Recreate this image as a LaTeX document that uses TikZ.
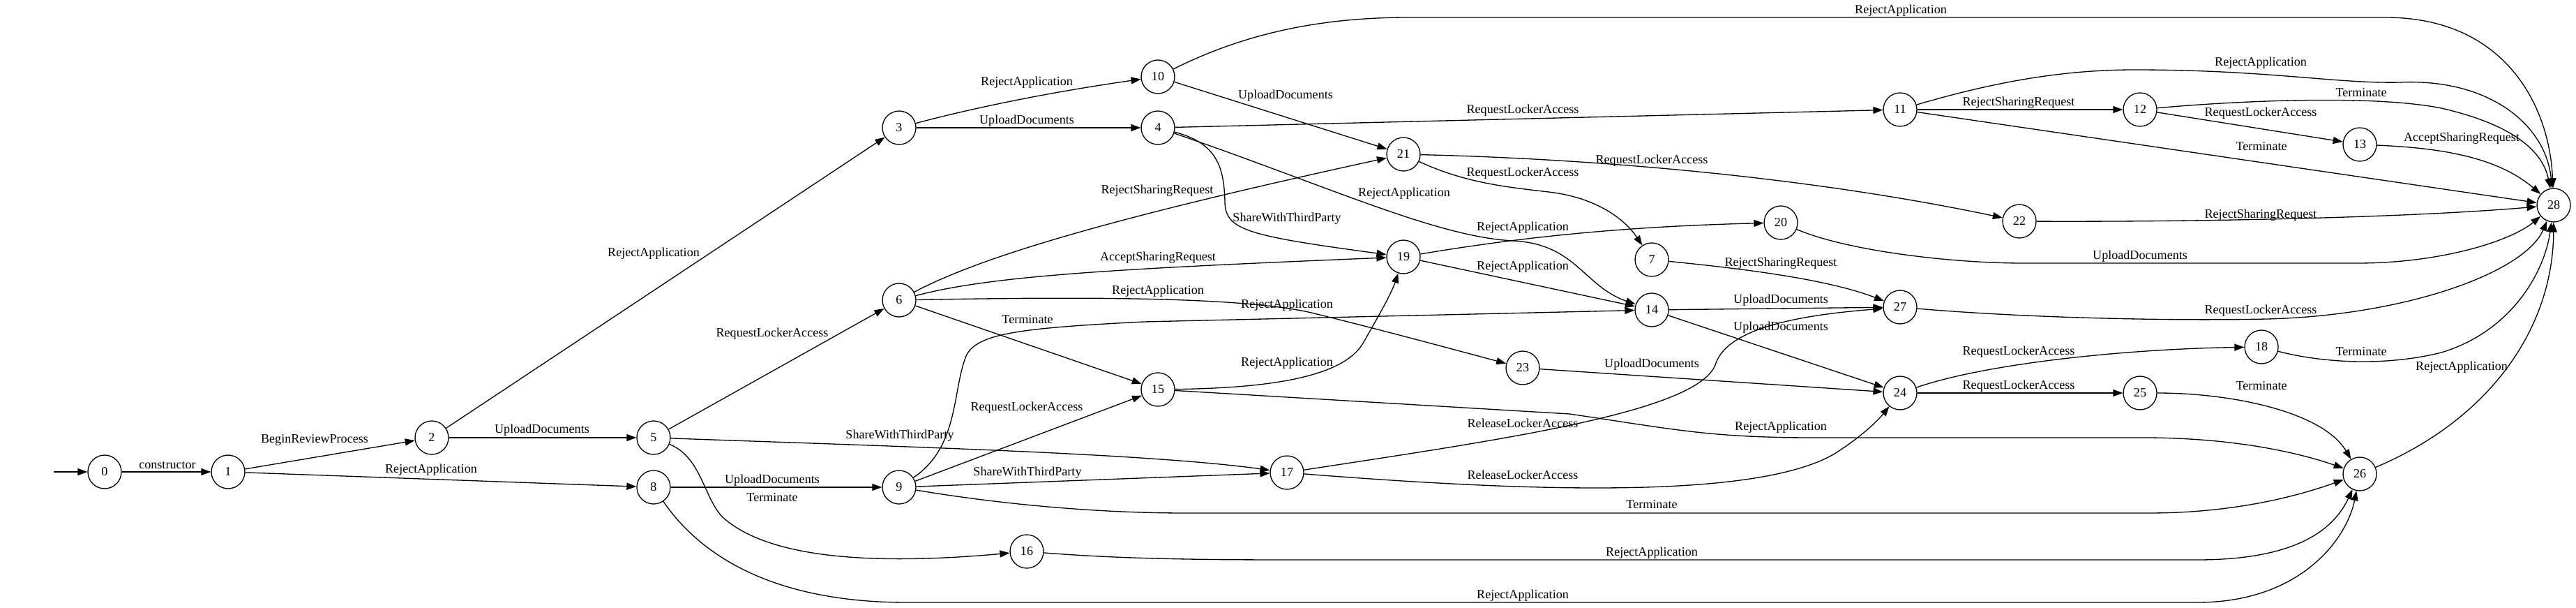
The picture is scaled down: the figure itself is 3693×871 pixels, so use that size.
\documentclass[tikz,border=0pt]{standalone}
\usepackage{fontspec}
\setmainfont{Liberation Serif}
\usetikzlibrary{arrows.meta}
\newcommand\gvfont{\fontsize{10.3}{12}\selectfont}
\tikzset{
  st/.style={circle, draw, line width=0.75pt, minimum size=0.96cm, inner sep=0pt, font=\gvfont},
  lbl/.style={inner sep=0pt, font=\gvfont},
  tr/.style={draw, line width=0.75pt, -{Triangle[length=0.28cm,width=0.2cm]}},
}
\begin{document}
\begin{tikzpicture}[x=0.02cm, y=-0.02cm]
\useasboundingbox (0,0) rectangle (3693,871);
% states
\coordinate (start) at (77,676);
\node[st] (n0) at (150,676) {0};
\node[st] (n1) at (327,676) {1};
\node[st] (n2) at (619,627) {2};
\node[st] (n5) at (937,627) {5};
\node[st] (n8) at (937,698) {8};
\node[st] (n3) at (1289,183) {3};
\node[st] (n6) at (1289,430) {6};
\node[st] (n9) at (1289,698) {9};
\node[st] (n10) at (1660,110) {10};
\node[st] (n4) at (1660,183) {4};
\node[st] (n15) at (1660,558) {15};
\node[st] (n16) at (1472,790) {16};
\node[st] (n17) at (1845,677) {17};
\node[st] (n21) at (2012,221) {21};
\node[st] (n19) at (2012,368) {19};
\node[st] (n23) at (2183,527) {23};
\node[st] (n7) at (2368,372) {7};
\node[st] (n14) at (2368,444) {14};
\node[st] (n20) at (2553,319) {20};
\node[st] (n11) at (2724,157) {11};
\node[st] (n27) at (2724,440) {27};
\node[st] (n24) at (2724,563) {24};
\node[st] (n22) at (2895,317) {22};
\node[st] (n12) at (3068,157) {12};
\node[st] (n25) at (3068,563) {25};
\node[st] (n18) at (3242,497) {18};
\node[st] (n13) at (3383,207) {13};
\node[st] (n26) at (3383,679) {26};
\node[st] (n28) at (3661,294) {28};
% transitions
\draw[tr] (start) -- (n0);
\draw[tr] (n0) -- (n1);
\draw[tr] (n1) -- (n2);
\draw[tr] (n1) -- (n8);
\draw[tr] (n2) -- (n5);
\draw[tr] (n2) -- (n3);
\draw[tr] (n3) .. controls (1420,148) and (1540,127) .. (n10);
\draw[tr] (n3) -- (n4);
\draw[tr] (n10) .. controls (1790,45) and (1900,25) .. (2020,25) -- (3420,25) .. controls (3590,25) and (3655,150) .. (n28);
\draw[tr] (n10) -- (n21);
\draw[tr] (n4) -- (n11);
\draw[tr] (n4) .. controls (1745,205) and (1755,240) .. (1756,290) .. controls (1757,330) and (1790,338) .. (n19);
\draw[tr] (n4) .. controls (1900,265) and (2060,340) .. (2170,345) .. controls (2260,350) and (2270,410) .. (n14);
\draw[tr] (n5) -- (n6);
\draw[tr] (n5) .. controls (1300,640) and (1650,650) .. (n17);
\draw[tr] (n5) .. controls (1005,655) and (1008,710) .. (1035,740) .. controls (1100,800) and (1250,810) .. (n16);
\draw[tr] (n8) -- (n9);
\draw[tr] (n8) .. controls (1000,790) and (1100,863) .. (1300,863) -- (3150,863) .. controls (3300,863) and (3365,770) .. (n26);
\draw[tr] (n6) .. controls (1420,360) and (1650,300) .. (n21);
\draw[tr] (n6) .. controls (1420,395) and (1600,385) .. (n19);
\draw[tr] (n6) .. controls (1550,425) and (1780,425) .. (1880,448) .. controls (1990,475) and (2100,505) .. (n23);
\draw[tr] (n6) -- (n15);
\draw[tr] (n9) .. controls (1375,640) and (1365,560) .. (1385,510) .. controls (1400,478) and (1460,470) .. (1640,461) -- (n14);
\draw[tr] (n9) -- (n15);
\draw[tr] (n9) -- (n17);
\draw[tr] (n9) .. controls (1420,720) and (1560,735) .. (1700,735) -- (3080,735) .. controls (3200,735) and (3290,712) .. (n26);
\draw[tr] (n15) .. controls (1800,556) and (1925,545) .. (1955,490) .. controls (1975,455) and (1995,420) .. (n19);
\draw[tr] (n15) -- (2250,593) .. controls (2400,615) and (2450,627) .. (2600,627) -- (3080,627) .. controls (3210,628) and (3300,650) .. (n26);
\draw[tr] (n16) .. controls (1600,800) and (1700,802) .. (1850,802) -- (3150,802) .. controls (3290,802) and (3345,760) .. (n26);
\draw[tr] (n17) .. controls (2150,630) and (2440,590) .. (2460,520) .. controls (2480,465) and (2600,450) .. (n27);
\draw[tr] (n17) .. controls (2200,705) and (2520,715) .. (2630,650) .. controls (2665,628) and (2690,605) .. (n24);
\draw[tr] (n21) .. controls (2100,262) and (2160,268) .. (2220,275) .. controls (2290,283) and (2330,315) .. (n7);
\draw[tr] (n21) .. controls (2300,228) and (2600,255) .. (n22);
\draw[tr] (n19) .. controls (2150,345) and (2300,325) .. (n20);
\draw[tr] (n19) -- (n14);
\draw[tr] (n7) .. controls (2500,385) and (2620,400) .. (n27);
\draw[tr] (n20) .. controls (2650,360) and (2800,377) .. (2900,377) -- (3380,377) .. controls (3500,377) and (3600,345) .. (n28);
\draw[tr] (n14) -- (n27);
\draw[tr] (n14) -- (n24);
\draw[tr] (n23) -- (n24);
\draw[tr] (n27) .. controls (2900,455) and (3100,460) .. (3250,457) .. controls (3450,452) and (3620,390) .. (n28);
\draw[tr] (n24) .. controls (2850,520) and (3050,500) .. (n18);
\draw[tr] (n24) -- (n25);
\draw[tr] (n18) .. controls (3330,520) and (3420,525) .. (3500,505) .. controls (3600,475) and (3648,390) .. (n28);
\draw[tr] (n25) .. controls (3200,563) and (3330,590) .. (n26);
\draw[tr] (n26) .. controls (3570,600) and (3660,470) .. (n28);
\draw[tr] (n11) .. controls (2850,120) and (2950,100) .. (3060,100) .. controls (3250,100) and (3350,120) .. (3440,118) .. controls (3570,112) and (3650,180) .. (n28);
\draw[tr] (n11) -- (n12);
\draw[tr] (n11) -- (n28);
\draw[tr] (n12) .. controls (3200,145) and (3400,135) .. (3500,155) .. controls (3600,178) and (3645,215) .. (n28);
\draw[tr] (n12) -- (n13);
\draw[tr] (n13) .. controls (3500,212) and (3580,225) .. (n28);
\draw[tr] (n22) .. controls (3150,318) and (3450,312) .. (n28);
% labels
\node[lbl] (l01) at (240,666) {constructor};
\node[lbl] (l12) at (451,630) {BeginReviewProcess};
\node[lbl] (l18) at (618,673) {RejectApplication};
\node[lbl] (l25) at (777,616) {UploadDocuments};
\node[lbl] (l23) at (937,363) {RejectApplication};
\node[lbl] (l310) at (1472,118) {RejectApplication};
\node[lbl] (l34) at (1472,173) {UploadDocuments};
\node[lbl] (l1028) at (2725,15) {RejectApplication};
\node[lbl] (l1021) at (1843,137) {UploadDocuments};
\node[lbl] (l411) at (2183,158) {RequestLockerAccess};
\node[lbl] (l419) at (1845,313) {ShareWithThirdParty};
\node[lbl] (l414) at (2013,277) {RejectApplication};
\node[lbl] (l56) at (1107,478) {RequestLockerAccess};
\node[lbl] (l517) at (1290,624) {ShareWithThirdParty};
\node[lbl] (l516) at (1107,713) {Terminate};
\node[lbl] (l89) at (1107,688) {UploadDocuments};
\node[lbl] (l826) at (2183,853) {RejectApplication};
\node[lbl] (l621) at (1659,273) {RejectSharingRequest};
\node[lbl] (l619) at (1660,369) {AcceptSharingRequest};
\node[lbl] (l623) at (1660,417) {RejectApplication};
\node[lbl] (l615) at (1473,458) {Terminate};
\node[lbl] (l914) at (1845,437) {RejectApplication};
\node[lbl] (l915) at (1472,584) {RequestLockerAccess};
\node[lbl] (l917) at (1473,677) {ShareWithThirdParty};
\node[lbl] (l926) at (2368,723) {Terminate};
\node[lbl] (l1519) at (1845,520) {RejectApplication};
\node[lbl] (l1526) at (2553,612) {RejectApplication};
\node[lbl] (l1626) at (2368,792) {RejectApplication};
\node[lbl] (l1727) at (2183,606) {ReleaseLockerAccess};
\node[lbl] (l1724) at (2183,680) {ReleaseLockerAccess};
\node[lbl] (l217) at (2183,248) {RequestLockerAccess};
\node[lbl] (l2122) at (2368,230) {RequestLockerAccess};
\node[lbl] (l1920) at (2183,326) {RejectApplication};
\node[lbl] (l1914) at (2183,382) {RejectApplication};
\node[lbl] (l727) at (2553,377) {RejectSharingRequest};
\node[lbl] (l2028) at (3068,367) {UploadDocuments};
\node[lbl] (l1427) at (2553,430) {UploadDocuments};
\node[lbl] (l1424) at (2553,469) {UploadDocuments};
\node[lbl] (l2324) at (2368,522) {UploadDocuments};
\node[lbl] (l2728) at (3241,445) {RequestLockerAccess};
\node[lbl] (l2418) at (2894,504) {RequestLockerAccess};
\node[lbl] (l2425) at (2894,553) {RequestLockerAccess};
\node[lbl] (l1828) at (3385,504) {Terminate};
\node[lbl] (l2526) at (3242,553) {Terminate};
\node[lbl] (l2628) at (3529,526) {RejectApplication};
\node[lbl] (l1128a) at (3241,90) {RejectApplication};
\node[lbl] (l1112) at (2894,147) {RejectSharingRequest};
\node[lbl] (l1128b) at (3242,210) {Terminate};
\node[lbl] (l1228) at (3385,133) {Terminate};
\node[lbl] (l1213) at (3241,162) {RequestLockerAccess};
\node[lbl] (l1328) at (3529,198) {AcceptSharingRequest};
\node[lbl] (l2228) at (3241,308) {RejectSharingRequest};
\end{tikzpicture}
\end{document}
